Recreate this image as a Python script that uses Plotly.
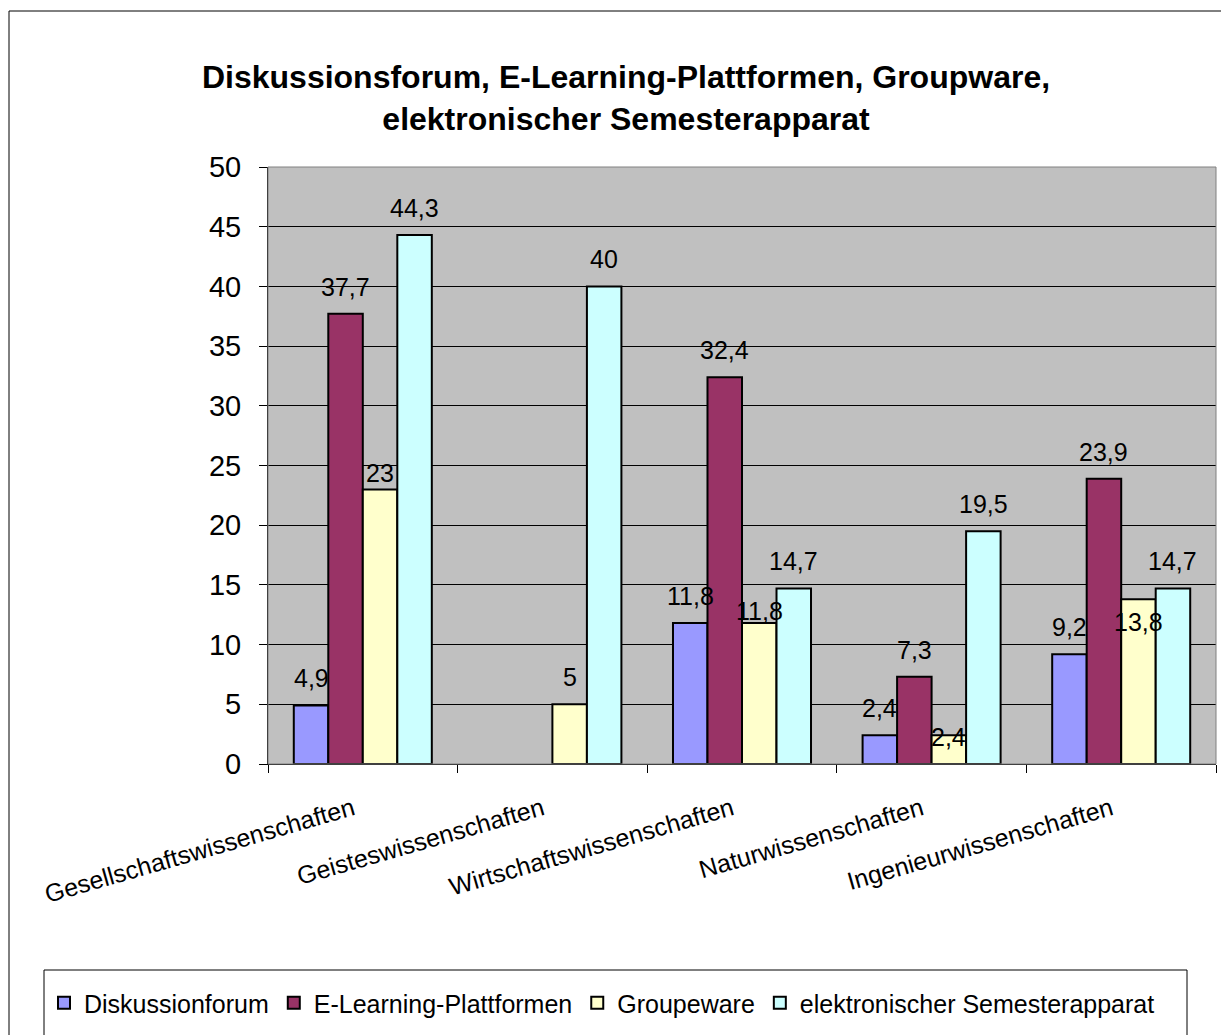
import plotly.graph_objects as go

# Data
categories = [
    'Gesellschaftswissenschaften',
    'Geisteswissenschaften',
    'Wirtschaftswissenschaften',
    'Naturwissenschaften',
    'Ingenieurwissenschaften',
]
series_names = [
    'Diskussionforum',
    'E-Learning-Plattformen',
    'Groupeware',
    'elektronischer Semesterapparat',
]
diskussionforum = [4.9, None, 11.8, 2.4, 9.2]
e_learning = [37.7, None, 32.4, 7.3, 23.9]
groupware = [23, 5, 11.8, 2.4, 13.8]
semesterapparat = [44.3, 40, 14.7, 19.5, 14.7]
y_ticks = [0, 5, 10, 15, 20, 25, 30, 35, 40, 45, 50]

series_values = [diskussionforum, e_learning, groupware, semesterapparat]
series_colors = ['#9999FF', '#993366', '#FFFFCC', '#CCFFFF']

# label offsets (px above the bar top), the Groupware labels sit lower in the original
label_shift = [
    [27, 27, 27, 27, 27],
    [27, 27, 27, 27, 27],
    [16, 27, 12, -2, -23],
    [27, 27, 27, 27, 27],
]

FONT = 'Liberation Sans, Arial, sans-serif'
BARGAP = 0.272
n_series = len(series_names)
bar_w = (1 - BARGAP) / n_series

W, H = 1229, 1035
OFF = 8  # page body margin shifts the figure by this much


def fmt(v):
    return f'{v:g}'.replace('.', ',')


fig = go.Figure()

for name, vals, color in zip(series_names, series_values, series_colors):
    fig.add_trace(go.Bar(
        x=categories,
        y=vals,
        name=name,
        marker=dict(color=color, line=dict(color='black', width=2)),
    ))

# Data labels as annotations so they can float above the bars like in Excel
annotations = []
for j, vals in enumerate(series_values):
    for i, v in enumerate(vals):
        if v is None:
            continue
        annotations.append(dict(
            x=i + (j - (n_series - 1) / 2) * bar_w,
            y=v,
            xref='x', yref='y',
            text=fmt(v),
            showarrow=False,
            yanchor='middle',
            yshift=label_shift[j][i],
            font=dict(family=FONT, size=25, color='black'),
        ))

# plot-area geometry (screen pixels of the reference, minus the page offset)
L, R, T, B = 268 - OFF, 1216 - OFF, 167 - OFF, 764 - OFF
pw, ph = R - L, B - T


def px_x(x):
    return (x - OFF - L) / pw


def px_y(y):
    return (B - (y - OFF)) / ph


shapes = [
    # outer chart frame
    dict(type='rect', xref='paper', yref='paper',
         x0=px_x(9), x1=px_x(1260), y0=px_y(11), y1=px_y(1080),
         line=dict(color='black', width=1), layer='below'),
    # plot area frame (grey)
    dict(type='rect', xref='paper', yref='paper',
         x0=0, x1=1, y0=0, y1=1,
         line=dict(color='#808080', width=1)),
    # legend frame
    dict(type='rect', xref='paper', yref='paper',
         x0=px_x(44), x1=px_x(1187), y0=px_y(970), y1=px_y(1080),
         line=dict(color='black', width=1)),
]

fig.update_layout(
    width=W,
    height=H,
    margin=dict(l=L, r=W - R, t=T, b=H - B),
    paper_bgcolor='white',
    plot_bgcolor='#C0C0C0',
    barmode='group',
    bargap=BARGAP,
    bargroupgap=0,
    font=dict(family=FONT, color='black'),
    title=dict(
        text='Diskussionsforum, E-Learning-Plattformen, Groupware,<br>elektronischer Semesterapparat',
        x=(626 - OFF) / W, xanchor='center',
        y=1 - (88 - OFF) / H, yanchor='middle',
        font=dict(family=FONT, size=32, color='black', weight='bold'),
    ),
    xaxis=dict(
        type='category',
        tickangle=-16,
        tickfont=dict(family=FONT, size=25),
        showline=True, linecolor='black', linewidth=1,
        ticks='outside', tickson='boundaries', ticklen=8, tickcolor='black',
        ticklabelstandoff=20,
        ticklabelshift=-10,
        showgrid=False,
        automargin=False,
    ),
    yaxis=dict(
        range=[0, 50],
        tickvals=y_ticks,
        tickfont=dict(family=FONT, size=29),
        showline=True, linecolor='black', linewidth=1,
        ticks='outside', ticklen=8, tickcolor='black',
        ticklabelstandoff=12,
        showgrid=True, gridcolor='black', gridwidth=1,
        zeroline=False,
        automargin=False,
    ),
    showlegend=True,
    legend=dict(
        orientation='h',
        x=px_x(44), xanchor='left',
        y=px_y(1003), yanchor='middle',
        font=dict(family=FONT, size=25),
        bgcolor='rgba(0,0,0,0)',
        borderwidth=0,
        traceorder='normal',
    ),
    annotations=annotations,
    shapes=shapes,
)

fig.write_html('out.html')
